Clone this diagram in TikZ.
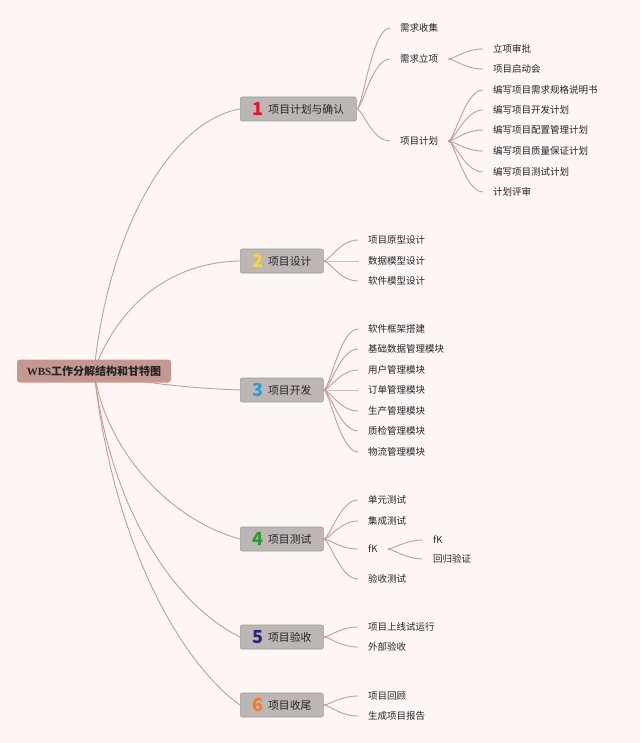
\documentclass[tikz,border=0pt]{standalone}
\usepackage{fontspec}
\setmainfont{Noto Sans CJK SC}
\newfontfamily\serifb{Liberation Serif}
\usetikzlibrary{backgrounds}
\definecolor{bgc}{HTML}{FDF6F5}
\definecolor{rootc}{HTML}{C49890}
\definecolor{boxc}{HTML}{BDB6B4}
\definecolor{boxb}{HTML}{8EA497}
\definecolor{linec}{HTML}{C79C96}
\definecolor{txt}{HTML}{252525}
\definecolor{nA}{HTML}{E3152B}
\definecolor{nB}{HTML}{F5D63D}
\definecolor{nC}{HTML}{2D9CDB}
\definecolor{nD}{HTML}{2C9A2C}
\definecolor{nE}{HTML}{24287A}
\definecolor{nF}{HTML}{F47B20}
\newcommand{\bnum}[2]{\smash{\raisebox{-2.4pt}{\fontsize{18}{18}\selectfont\bfseries\color{#1}#2}}\hspace{5pt}}
\begin{document}
\begin{tikzpicture}[x=1pt,y=-1pt,
  leaf/.style={anchor=west,inner xsep=10pt,inner ysep=1pt,font=\fontsize{9.5}{10}\selectfont,text=txt},
  br/.style={anchor=west,draw=boxb,fill=boxc,rounded corners=2pt,minimum height=24pt,minimum width=83pt,inner xsep=2pt,inner ysep=0pt,font=\fontsize{10.8}{11}\selectfont,text=txt,line width=0.6pt},
  rootst/.style={fill=rootc,rounded corners=3pt,minimum width=154pt,minimum height=23pt,inner sep=0pt,font=\fontsize{11}{12}\selectfont\bfseries,text=black!85},
  conn/.style={draw=linec,line width=0.9pt},
  lk/.style={out=0,in=180,out distance=6pt,in distance=18pt}]
\useasboundingbox (0,0) rectangle (640,743);
% root
\node[rootst] (root) at (94,371) {{\serifb\bfseries WBS}工作分解结构和甘特图};
% branches
\node[br,minimum width=116pt] (b1) at (240,109) {\bnum{nA}{1}项目计划与确认};
\node[br] (b2) at (240,261) {\bnum{nB}{2}项目设计};
\node[br] (b3) at (240,390) {\bnum{nC}{3}项目开发};
\node[br] (b4) at (240,539) {\bnum{nD}{4}项目测试};
\node[br] (b5) at (240,637) {\bnum{nE}{5}项目验收};
\node[br] (b6) at (240,705) {\bnum{nF}{6}项目收尾};
% branch 1 leaves
\node[leaf] (l11) at (390,28) {需求收集};
\node[leaf] (l12) at (390,59) {需求立项};
\node[leaf] (l13) at (390,141) {项目计划};
\node[leaf] (l121) at (483,49) {立项审批};
\node[leaf] (l122) at (483,69) {项目启动会};
\node[leaf] (l131) at (483,90) {编写项目需求规格说明书};
\node[leaf] (l132) at (483,110) {编写项目开发计划};
\node[leaf] (l133) at (483,130) {编写项目配置管理计划};
\node[leaf] (l134) at (483,151) {编写项目质量保证计划};
\node[leaf] (l135) at (483,172) {编写项目测试计划};
\node[leaf] (l136) at (483,192) {计划评审};
% branch 2
\node[leaf] (l21) at (358,240) {项目原型设计};
\node[leaf] (l22) at (358,261) {数据模型设计};
\node[leaf] (l23) at (358,281) {软件模型设计};
% branch 3
\node[leaf] (l31) at (358,329) {软件框架搭建};
\node[leaf] (l32) at (358,349) {基础数据管理模块};
\node[leaf] (l33) at (358,370) {用户管理模块};
\node[leaf] (l34) at (358,390) {订单管理模块};
\node[leaf] (l35) at (358,411) {生产管理模块};
\node[leaf] (l36) at (358,431) {质检管理模块};
\node[leaf] (l37) at (358,452) {物流管理模块};
% branch 4
\node[leaf] (l41) at (358,500) {单元测试};
\node[leaf] (l42) at (358,521) {集成测试};
\node[leaf] (l43) at (358,549) {fK};
\node[leaf] (l44) at (358,579) {验收测试};
\node[leaf] (l431) at (423,540) {fK};
\node[leaf] (l432) at (423,559) {回归验证};
% branch 5
\node[leaf] (l51) at (358,627) {项目上线试运行};
\node[leaf] (l52) at (358,647) {外部验收};
% branch 6
\node[leaf] (l61) at (358,696) {项目回顾};
\node[leaf] (l62) at (358,716) {生成项目报告};
\begin{pgfonlayer}{background}
\fill[bgc] (0,0) rectangle (640,743);
\draw[conn] (root.center) .. controls (110,220) and (175,120) .. (b1.west);
\draw[conn] (root.center) .. controls (120,300) and (175,262) .. (b2.west);
\draw[conn] (root.center) .. controls (120,380) and (180,388) .. (b3.west);
\draw[conn] (root.center) .. controls (105,450) and (170,520) .. (b4.west);
\draw[conn] (root.center) .. controls (110,510) and (175,605) .. (b5.west);
\draw[conn] (root.center) .. controls (115,560) and (190,670) .. (b6.west);
\foreach \c in {l11,l12,l13} \draw[conn] (b1.east) to[lk] (\c.west);
\foreach \c in {l121,l122} \draw[conn] (l12.east) to[lk] (\c.west);
\foreach \c in {l131,l132,l133,l134,l135,l136} \draw[conn] (l13.east) to[lk] (\c.west);
\foreach \c in {l21,l22,l23} \draw[conn] (b2.east) to[lk] (\c.west);
\foreach \c in {l31,l32,l33,l34,l35,l36,l37} \draw[conn] (b3.east) to[lk] (\c.west);
\foreach \c in {l41,l42,l43,l44} \draw[conn] (b4.east) to[lk] (\c.west);
\foreach \c in {l431,l432} \draw[conn] (l43.east) to[lk] (\c.west);
\foreach \c in {l51,l52} \draw[conn] (b5.east) to[lk] (\c.west);
\foreach \c in {l61,l62} \draw[conn] (b6.east) to[lk] (\c.west);
\end{pgfonlayer}
\end{tikzpicture}
\end{document}
